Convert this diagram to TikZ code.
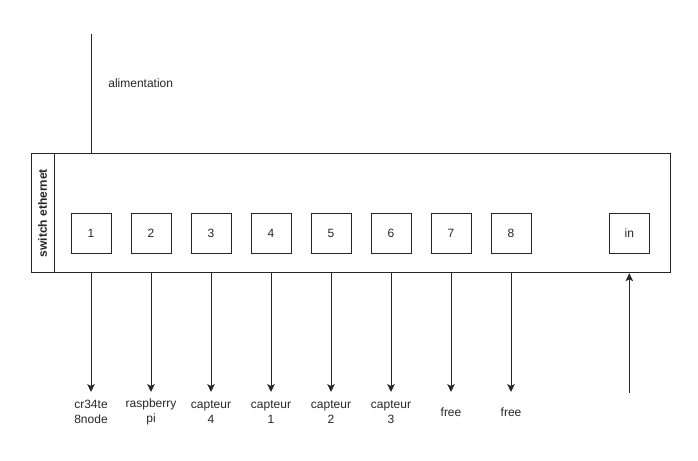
\documentclass[tikz,border=0pt]{standalone}
\usepackage{fontspec}
\setmainfont{Liberation Sans}
\usetikzlibrary{arrows.meta}
\begin{document}
\begin{tikzpicture}[x=1pt,y=-1pt,
  every node/.style={font=\fontsize{12}{14.5}\selectfont, text=black!85},
  ln/.style={draw=black!85, line width=1pt},
  portbox/.style={ln, minimum width=40pt, minimum height=40pt, inner sep=0pt},
  lbl/.style={align=center, inner sep=0pt},
  arr/.style={ln, -{Stealth[length=8pt,width=7.5pt,inset=2pt]}}]
\useasboundingbox (0,0) rectangle (698,460);
% switch body
\node[ln, minimum width=639pt, minimum height=119pt, inner sep=0pt] (sw) at (350.5,213.2) {};
\node[ln, minimum width=23.3pt, minimum height=119pt, inner sep=0pt] (hdr) at (42.65,213.2) {};
\node[rotate=90, font=\bfseries\fontsize{12}{14.5}\selectfont] (hdrtxt) at (hdr.center) {switch ethernet};
% ports
\node[portbox] (p1) at (91,233.3) {1};
\node[portbox] (p2) at (151,233.3) {2};
\node[portbox] (p3) at (211,233.3) {3};
\node[portbox] (p4) at (271,233.3) {4};
\node[portbox] (p5) at (331,233.3) {5};
\node[portbox] (p6) at (391,233.3) {6};
\node[portbox] (p7) at (451,233.3) {7};
\node[portbox] (p8) at (511,233.3) {8};
\node[portbox] (pin) at (629.3,233.3) {in};
% labels
\node[lbl] (l1) at (91,412) {cr34te\\8node};
\node[lbl] (l2) at (151,412) {raspberry\\pi};
\node[lbl] (l3) at (211,412) {capteur\\4};
\node[lbl] (l4) at (271,412) {capteur\\1};
\node[lbl] (l5) at (331,412) {capteur\\2};
\node[lbl] (l6) at (391,412) {capteur\\3};
\node[lbl] (l7) at (451,412) {free};
\node[lbl] (l8) at (511,412) {free};
% arrow tips
\foreach \i/\x in {1/91,2/151,3/211,4/271,5/331,6/391,7/451,8/511}{
  \coordinate (t\i) at (\x,392);
  \draw[arr] (p\i |- sw.south) -- (t\i);
}
\coordinate (inbot) at (629.3,392.7);
\draw[arr] (inbot) -- (pin |- sw.south);
% alimentation
\coordinate (altop) at (91,34);
\draw[ln] (altop) -- (p1 |- sw.north);
\node (al) at (140.7,83) {alimentation};
\end{tikzpicture}
\end{document}
